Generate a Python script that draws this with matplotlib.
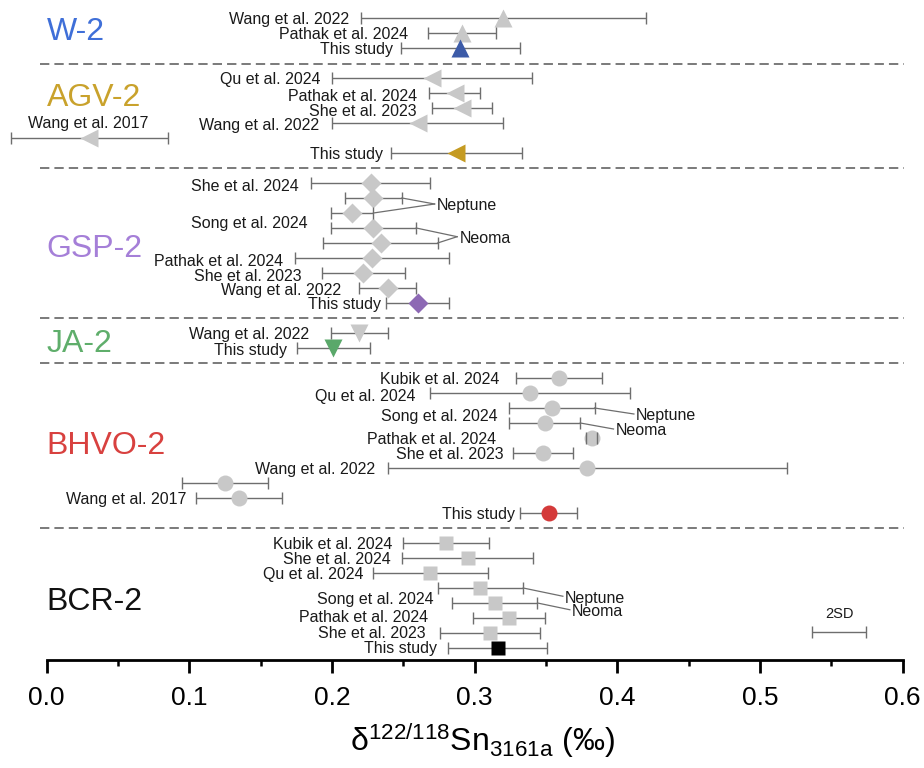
import matplotlib.pyplot as plt

plt.rcParams['font.family'] = ['Liberation Sans', 'DejaVu Sans']
plt.rcParams['mathtext.fontset'] = 'custom'
plt.rcParams['mathtext.rm'] = 'Liberation Sans'
plt.rcParams['mathtext.it'] = 'Liberation Sans:italic'
plt.rcParams['mathtext.bf'] = 'Liberation Sans:bold'

# delta122/118Sn (permil) with 2SD, one row per published value, this study last
w2_refs = ['Wang et al. 2022', 'Pathak et al. 2024', 'This study']
w2_mean = [0.320, 0.291, 0.290]
w2_2sd = [0.100, 0.024, 0.042]
w2_inst = ['', '', '']

agv2_refs = ['Qu et al. 2024', 'Pathak et al. 2024', 'She et al. 2023',
             'Wang et al. 2022', 'Wang et al. 2017', 'This study']
agv2_mean = [0.270, 0.286, 0.291, 0.260, 0.030, 0.287]
agv2_2sd = [0.070, 0.018, 0.021, 0.060, 0.055, 0.046]
agv2_inst = ['', '', '', '', '', '']

gsp2_refs = ['She et al. 2024', 'Song et al. 2024', '', '', '',
             'Pathak et al. 2024', 'She et al. 2023', 'Wang et al. 2022', 'This study']
gsp2_mean = [0.227, 0.229, 0.214, 0.229, 0.234, 0.228, 0.222, 0.239, 0.260]
gsp2_2sd = [0.042, 0.020, 0.015, 0.030, 0.040, 0.054, 0.029, 0.020, 0.022]
gsp2_inst = ['', 'Neptune', 'Neptune', 'Neoma', 'Neoma', '', '', '', '']

ja2_refs = ['Wang et al. 2022', 'This study']
ja2_mean = [0.219, 0.201]
ja2_2sd = [0.020, 0.0255]
ja2_inst = ['', '']

bhvo2_refs = ['Kubik et al. 2024', 'Qu et al. 2024', 'Song et al. 2024', '',
              'Pathak et al. 2024', 'She et al. 2023', 'Wang et al. 2022', '',
              'Wang et al. 2017', 'This study']
bhvo2_mean = [0.359, 0.339, 0.354, 0.349, 0.382, 0.348, 0.379, 0.125, 0.135, 0.352]
bhvo2_2sd = [0.030, 0.070, 0.030, 0.025, 0.004, 0.021, 0.140, 0.030, 0.030, 0.020]
bhvo2_inst = ['', '', 'Neptune', 'Neoma', '', '', '', '', '', '']

bcr2_refs = ['Kubik et al. 2024', 'She et al. 2024', 'Qu et al. 2024',
             'Song et al. 2024', '', 'Pathak et al. 2024', 'She et al. 2023', 'This study']
bcr2_mean = [0.280, 0.295, 0.269, 0.304, 0.314, 0.324, 0.311, 0.316]
bcr2_2sd = [0.030, 0.046, 0.040, 0.030, 0.030, 0.025, 0.035, 0.035]
bcr2_inst = ['', '', '', 'Neptune', 'Neoma', '', '', '']

sd_bar = 0.038  # reference 2SD bar width

# label placement: (right edge in permil, row offset[, ha])
w2_lab = [(0.212, 0), (0.2535, 0), (0.2425, 0)]
agv2_lab = [(0.1916, 0), (0.2598, 0.1), (0.2593, 0.13), (0.1911, 0.07),
            (0.029, -1.07, 'center'), (0.2359, 0)]
gsp2_lab = [(0.1764, 0.13), (0.1827, 1.58), None, None, None,
            (0.1654, 0.13), (0.1787, 0.13), (0.2061, 0.07), (0.2341, 0)]
ja2_lab = [(0.1841, 0), (0.1686, 0.05)]
bhvo2_lab = [(0.3172, 0), (0.2582, 0.1), (0.3161, 0.42), None, (0.3147, 0),
             (0.3201, 0), (0.2301, 0), None, (0.0981, 0), (0.3283, 0)]
bcr2_lab = [(0.2425, 0), (0.2411, 0), (0.2219, 0), (0.2715, 0.65), None,
            (0.2671, -0.15), (0.2659, -0.1), (0.2738, -0.1)]
lab_shift = 0.12  # text boxes sit a little high with va='center'

# instrument callouts: text anchor (permil, row slot)
gsp2_call = {'Neptune': (0.2734, 13.4), 'Neoma': (0.2892, 15.58)}
bhvo2_call = {'Neptune': (0.4131, 27.4), 'Neoma': (0.3988, 28.4)}
bcr2_call = {'Neptune': (0.3633, 39.55), 'Neoma': (0.3682, 40.45)}

groups = [
    dict(name='W-2', refs=w2_refs, mean=w2_mean, sd=w2_2sd, inst=w2_inst, lab=w2_lab,
         call={}, marker='^', ms=13.5, col='#3c5ba8', tcol='#3f6fd8', ty=0.96),
    dict(name='AGV-2', refs=agv2_refs, mean=agv2_mean, sd=agv2_2sd, inst=agv2_inst, lab=agv2_lab,
         call={}, marker='<', ms=13.5, col='#c59b22', tcol='#c9a22c', ty=1.3),
    dict(name='GSP-2', refs=gsp2_refs, mean=gsp2_mean, sd=gsp2_2sd, inst=gsp2_inst, lab=gsp2_lab,
         call=gsp2_call, marker='D', ms=10, col='#8d69b4', tcol='#a57fd8', ty=4.4),
    dict(name='JA-2', refs=ja2_refs, mean=ja2_mean, sd=ja2_2sd, inst=ja2_inst, lab=ja2_lab,
         call={}, marker='v', ms=12.5, col='#5aa86a', tcol='#5fae6b', ty=0.76),
    dict(name='BHVO-2', refs=bhvo2_refs, mean=bhvo2_mean, sd=bhvo2_2sd, inst=bhvo2_inst, lab=bhvo2_lab,
         call=bhvo2_call, marker='o', ms=11.5, col='#d43a3a', tcol='#d8413f', ty=4.5),
    dict(name='BCR-2', refs=bcr2_refs, mean=bcr2_mean, sd=bcr2_2sd, inst=bcr2_inst, lab=bcr2_lab,
         call=bcr2_call, marker='s', ms=10.5, col='#000000', tcol='#111111', ty=3.96),
]

bar_col = '#6e6e6e'
grey = '#c8c8c8'

fig = plt.figure(figsize=(9.24, 7.68), dpi=100)
ax = fig.add_axes([0, 108 / 768, 1, 660 / 768])

slot = 1
for gi, g in enumerate(groups):
    n = len(g['mean'])
    rows = list(range(slot, slot + n))
    for i in range(n):
        last = i == n - 1
        eb = ax.errorbar(g['mean'][i], rows[i], xerr=g['sd'][i], fmt=g['marker'],
                         ms=g['ms'], mfc=g['col'] if last else grey, mec='none',
                         ecolor=bar_col, elinewidth=1.0, capsize=4, capthick=1.0, zorder=3)
        for cap in eb[1]:
            cap.set_zorder(4)
        lab = g['lab'][i]
        if lab is not None and g['refs'][i]:
            ha = lab[2] if len(lab) > 2 else 'right'
            ax.text(lab[0], rows[i] + lab[1] + lab_shift, g['refs'][i], ha=ha, va='center',
                    fontsize=11.5, color='#1a1a1a', zorder=4)
    # instrument callout lines from the upper 2SD ends
    for inst, (tx, ty) in g['call'].items():
        for i in range(n):
            if g['inst'][i] == inst:
                ax.plot([g['mean'][i] + g['sd'][i], tx - 0.0015], [rows[i], ty],
                        color=bar_col, lw=0.9, zorder=2)
        ax.text(tx, ty + lab_shift, inst, ha='left', va='center', fontsize=11.5, color='#1a1a1a')
    ax.text(0.0, rows[0] + g['ty'], g['name'], ha='left', va='center',
            fontsize=23, color=g['tcol'])
    slot += n
    if gi < len(groups) - 1:
        sep = slot + (0.09 if gi == 0 else 0)
        ax.plot([-0.005, 0.601], [sep, sep], color='#7a7a7a', lw=1.4,
                dashes=(4.8, 2.6), zorder=1)
        slot += 1

# 2SD reference bar
ax.errorbar(0.5555, 41.9, xerr=sd_bar / 2, fmt='none', ecolor=bar_col,
            elinewidth=1.0, capsize=4, capthick=1.0)
ax.text(0.5555, 40.75, '2SD', ha='center', va='center', fontsize=10.5, color='#1a1a1a')

ax.set_xlim(-0.032733, 0.614931)
ax.set_ylim(43.8, -0.2)
ax.set_yticks([])
for s in ['left', 'right', 'top']:
    ax.spines[s].set_visible(False)
ax.spines['bottom'].set_bounds(0, 0.6)
ax.spines['bottom'].set_linewidth(2)
ax.set_xticks([0, 0.1, 0.2, 0.3, 0.4, 0.5, 0.6])
ax.set_xticklabels(['0.0', '0.1', '0.2', '0.3', '0.4', '0.5', '0.6'])
ax.set_xticks([0.05, 0.15, 0.25, 0.35, 0.45, 0.55], minor=True)
ax.tick_params(axis='x', which='major', length=9.5, width=2, labelsize=19, pad=9)
ax.tick_params(axis='x', which='minor', length=4.5, width=1.8)
ax.patch.set_visible(False)

fig.text(482 / 924, 1 - 741 / 768, r'$\mathrm{\delta^{122/118}Sn_{3161a}}$ (‰)',
         ha='center', va='center', fontsize=23)

fig.savefig('out.png', dpi=100)
